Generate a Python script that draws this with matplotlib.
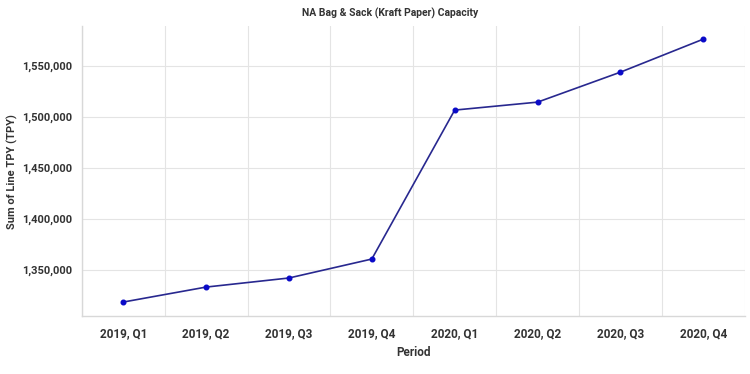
import numpy as np
import matplotlib
matplotlib.use("Agg")
import matplotlib.pyplot as plt
import matplotlib.ticker as ticker

# Data
periods = ['2019, Q1', '2019, Q2', '2019, Q3', '2019, Q4',
           '2020, Q1', '2020, Q2', '2020, Q3', '2020, Q4']
capacity = [1318600, 1333300, 1342200, 1360800,
            1506900, 1514700, 1544100, 1576500]

plt.rcParams['font.family'] = ['Roboto', 'DejaVu Sans']

fig = plt.figure(figsize=(7.5, 3.74), dpi=100)
ax = fig.add_axes([0.109, 0.155, 0.884, 0.775])

x = np.arange(len(periods))
ax.plot(x, capacity, color='#28288f', linewidth=1.2, zorder=3)
ax.scatter(x, capacity, color='#0a0ac8', s=11, zorder=4)

ax.set_xlim(-0.5, len(periods) - 0.5)
ax.set_ylim(1304900, 1589200)

# Category labels at centers, gridlines at category boundaries
ax.set_xticks(x)
ax.set_xticklabels(periods)
ax.set_xticks(np.arange(-0.5, len(periods), 1), minor=True)
ax.yaxis.set_major_locator(ticker.MultipleLocator(50000))
ax.yaxis.set_major_formatter(ticker.FuncFormatter(lambda v, p: f'{int(v):,}'))

ax.grid(which='minor', axis='x', color='#e4e4e4', linewidth=0.8)
ax.grid(which='major', axis='y', color='#e4e4e4', linewidth=0.8)
ax.set_axisbelow(True)
ax.tick_params(which='both', length=0)
ax.tick_params(axis='x', which='major', pad=8, labelsize=8.5, labelcolor='#333333')
ax.tick_params(axis='y', pad=7, labelsize=8, labelcolor='#333333')
for lbl in ax.get_xticklabels() + ax.get_yticklabels():
    lbl.set_fontweight('bold')

for side in ['top', 'right']:
    ax.spines[side].set_visible(False)
for side in ['left', 'bottom']:
    ax.spines[side].set_color('#d8d8d8')
    ax.spines[side].set_linewidth(1.0)

ax.set_xlabel('Period', fontsize=8.5, fontweight='bold', color='#333333', labelpad=4)
ax.set_ylabel('Sum of Line TPY (TPY)', fontsize=8, fontweight='bold', color='#333333', labelpad=3)
fig.text(0.52, 0.965, 'NA Bag & Sack (Kraft Paper) Capacity', ha='center', va='center',
         fontsize=7.5, fontweight='bold', color='#333333')

fig.savefig('out.png', dpi=100)
plt.close()
